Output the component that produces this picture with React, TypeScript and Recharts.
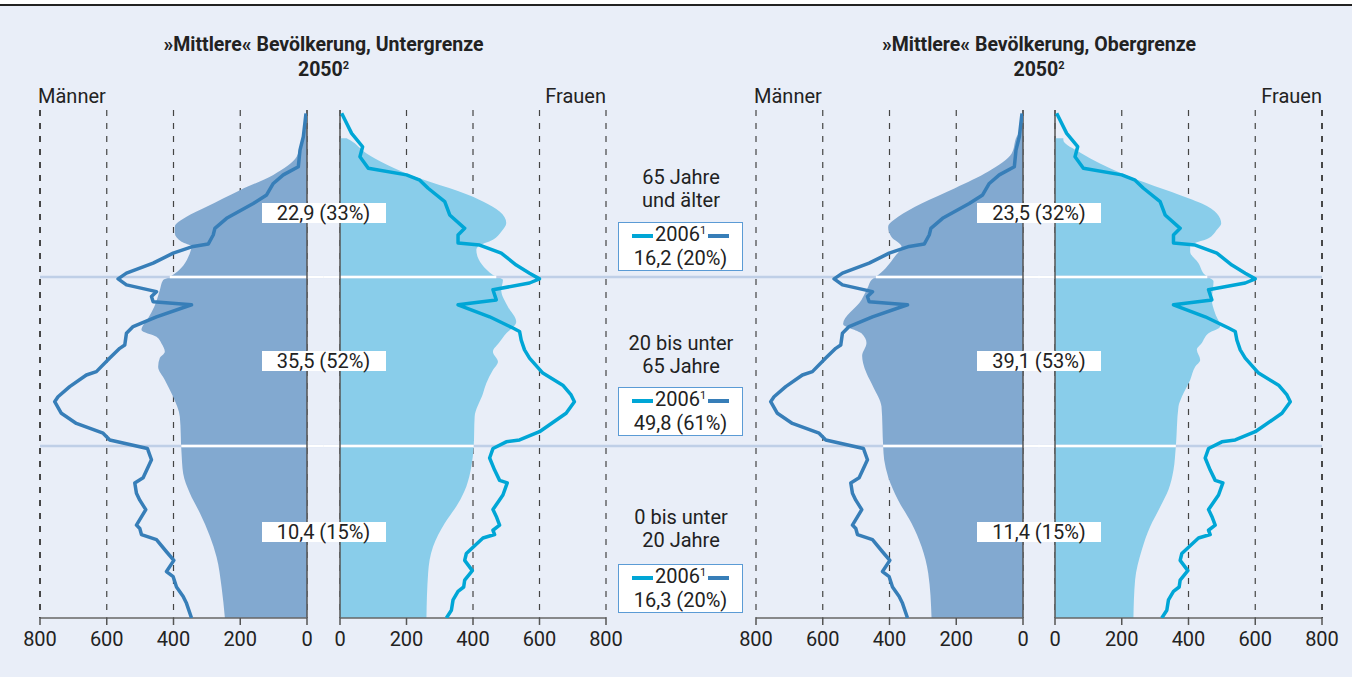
import React from 'react'
import { ComposedChart, Area, Line, XAxis, YAxis, CartesianGrid, ReferenceLine } from 'recharts'

// age axis: three bands (0-20, 20-65, 65-100) of nearly equal height
const AGE_BREAKS = [0, 20, 65, 100]
const BAND_WEIGHTS = [172, 169, 167]
const POS_MAX = BAND_WEIGHTS.reduce((a, b) => a + b, 0)
const TICKS = [0, 200, 400, 600, 800]
const PANEL_GAP = 100 // space between Männer and Frauen, in axis units

// [age, thousand persons]
const MEN_2006: [number, number][] = [
  [0, 346], [1.7, 361], [2.5, 371], [3.6, 391], [4.8, 401], [5.4, 421], [6.7, 399], [7.7, 421],
  [9.1, 451], [9.7, 496], [10.4, 501], [10.8, 511], [12.6, 483], [13.7, 501], [14.5, 511],
  [15.7, 516], [16.3, 491], [18.4, 466], [19.7, 478], [21.6, 591], [23.4, 611], [26, 691],
  [28.7, 736], [31.8, 756], [33.1, 746], [35.8, 711], [38.9, 661], [39.8, 631], [43.4, 591],
  [46, 561], [46.9, 546], [50, 541], [51.8, 521], [54.4, 451], [57.6, 346], [58.4, 461],
  [59.8, 466], [61.1, 451], [62.9, 541], [64.5, 566], [65.8, 541], [67.9, 461], [70, 401],
  [71.4, 341], [71.9, 296], [73.8, 281], [75.2, 276], [77.3, 241], [80.4, 161], [82.2, 121],
  [84.6, 101], [86.4, 71], [88.1, 26], [91.6, 21], [94.4, 11], [99.3, 3],
]
const WOMEN_2006: [number, number][] = [
  [0, 320], [0.9, 335], [2.1, 340], [3.1, 355], [3.6, 372], [4.4, 375], [5.5, 398], [6.7, 375],
  [7.5, 380], [9.3, 430], [9.7, 465], [10.2, 460], [10.8, 480], [11.8, 470], [12.6, 460],
  [14.3, 490], [15.7, 503], [16, 480], [17.2, 465], [18.6, 450], [19.7, 460], [21.1, 500],
  [21.6, 540], [23.8, 600], [28.7, 680], [31.8, 705], [33.6, 695], [36.2, 670], [39.4, 610],
  [43.4, 570], [45.6, 555], [48.2, 545], [50.5, 540], [51.4, 520], [54.4, 450], [57.6, 355],
  [58.9, 470], [61.6, 460], [63.4, 570], [64.5, 600], [65.8, 570], [67.5, 530], [70, 485],
  [71.7, 420], [72.1, 355], [73.8, 355], [75.2, 375], [78, 330], [80.8, 315], [83.6, 265],
  [85.3, 240], [86.4, 200], [87.8, 85], [90.2, 60], [92.3, 68], [95.1, 35], [99.3, 5],
]
const MEN_2050_LOW: [number, number][] = [
  [0, 246], [3.6, 256], [7.1, 271], [9.5, 291], [12.2, 321], [14.5, 351], [16.8, 371], [19.2, 376],
  [27.8, 381], [33.1, 401], [37.6, 426], [41.1, 446], [43.4, 441], [45.1, 426], [47.3, 436],
  [49.1, 451], [50.9, 496], [54, 476], [57, 458], [61.5, 441], [64.2, 431], [65, 411], [70, 351],
  [71.4, 346], [72.4, 376], [74.2, 396], [75.5, 396], [77.6, 361], [79.7, 301], [83.2, 201],
  [86.4, 101], [90.2, 31], [93.7, 16], [96.5, 0],
]
const WOMEN_2050_LOW: [number, number][] = [
  [0, 260], [5.2, 265], [8.3, 280], [11, 315], [13.3, 355], [15.3, 380], [17.6, 395], [19.9, 402],
  [27.8, 405], [34, 430], [36.7, 440], [40.2, 460], [42.4, 475], [45.1, 460], [47.7, 480],
  [49.5, 495], [53.1, 530], [57.1, 505], [61.5, 485], [64.2, 490], [65.4, 460], [70.7, 410],
  [71.4, 415], [72.8, 460], [74.5, 485], [76.3, 500], [78.7, 480], [80.8, 430], [81.8, 400],
  [86.7, 200], [90.9, 80], [93.7, 30], [94.1, 20],
]
const MEN_2050_HIGH: [number, number][] = [
  [0, 274], [5.2, 284], [8.3, 304], [11, 334], [13.7, 374], [16.4, 404], [18.4, 416], [20, 419],
  [30.5, 424], [35.8, 449], [39.4, 469], [42, 479], [44, 482], [47.4, 469], [50, 484], [52.5, 539],
  [58.9, 484], [62.4, 464], [64.2, 454], [65.4, 434], [69.3, 384], [71.4, 364], [73.4, 394],
  [75.5, 404], [77.6, 374], [80.4, 304], [83.6, 204], [87.1, 104], [90.9, 34], [94.4, 19], [96.5, 0],
]
const WOMEN_2050_HIGH: [number, number][] = [
  [0, 235], [4.4, 240], [7.9, 260], [10.6, 285], [12.9, 315], [14.9, 340], [17.2, 355], [19.9, 362],
  [30.5, 370], [33.1, 380], [37.6, 405], [41.1, 420], [42.9, 435], [45.6, 425], [47.4, 440],
  [50, 460], [51.8, 495], [55.3, 480], [58.9, 470], [63.8, 475], [65.4, 450], [67.9, 430],
  [70.3, 405], [71.5, 405], [73.1, 460], [74.9, 485], [76.2, 498], [78.3, 485], [80.4, 440],
  [81.5, 400], [86.7, 200], [90.9, 80], [93.7, 25], [94.1, 25],
]

const GROUP_LABELS = [['65 Jahre', 'und älter'], ['20 bis unter', '65 Jahre'], ['0 bis unter', '20 Jahre']]
const TOTALS_2006 = ['16,2 (20%)', '49,8 (61%)', '16,3 (20%)']
const TOTALS_LOW = ['22,9 (33%)', '35,5 (52%)', '10,4 (15%)']
const TOTALS_HIGH = ['23,5 (32%)', '39,1 (53%)', '11,4 (15%)']

const MEN_FILL = '#82a9d0'
const WOMEN_FILL = '#89cdea'
const MEN_LINE = '#377eb8'
const WOMEN_LINE = '#00a6d6'
const BG = '#e9eef8'
const FONT = 'Roboto, sans-serif'

function agePos(age: number): number {
  let base = 0
  for (let i = 0; i < BAND_WEIGHTS.length; i++) {
    const a0 = AGE_BREAKS[i]
    const a1 = AGE_BREAKS[i + 1]
    if (age <= a1 || i === BAND_WEIGHTS.length - 1) return base + ((age - a0) / (a1 - a0)) * BAND_WEIGHTS[i]
    base += BAND_WEIGHTS[i]
  }
  return base
}

function toSeries(pairs: [number, number][]) {
  return pairs.map(([age, v]) => ({ pos: agePos(age), v }))
}

function valueAt(pairs: [number, number][], age: number): number {
  for (let i = 1; i < pairs.length; i++) {
    const [a0, v0] = pairs[i - 1]
    const [a1, v1] = pairs[i]
    if (age <= a1) return v0 + ((v1 - v0) * (age - a0)) / (a1 - a0)
  }
  return pairs[pairs.length - 1][1]
}

const PANELS = [
  { id: 'mL', reversed: true, padding: { left: 0, right: 1015 }, area: MEN_2050_LOW, line: MEN_2006, fill: MEN_FILL, stroke: MEN_LINE },
  { id: 'fL', reversed: false, padding: { left: 300, right: 716 }, area: WOMEN_2050_LOW, line: WOMEN_2006, fill: WOMEN_FILL, stroke: WOMEN_LINE },
  { id: 'mR', reversed: true, padding: { left: 716, right: 299 }, area: MEN_2050_HIGH, line: MEN_2006, fill: MEN_FILL, stroke: MEN_LINE },
  { id: 'fR', reversed: false, padding: { left: 1015, right: 0 }, area: WOMEN_2050_HIGH, line: WOMEN_2006, fill: WOMEN_FILL, stroke: WOMEN_LINE },
]

const PYRAMIDS = [
  { men: PANELS[0], women: PANELS[1], title: '»Mittlere« Bevölkerung, Untergrenze', center: 323.5, left: 40, right: 606, totals: TOTALS_LOW },
  { men: PANELS[2], women: PANELS[3], title: '»Mittlere« Bevölkerung, Obergrenze', center: 1039, left: 756, right: 1322, totals: TOTALS_HIGH },
]

const GROUP_Y = [213, 360.5, 532]
const LABEL_Y = [177, 343, 517]
const BOX_TOP = [222, 387, 564]

function Text({ x, y, size = 20, bold = false, align = 'center', children }: any) {
  const w = 420
  const left = align === 'center' ? x - w / 2 : align === 'right' ? x - w : x
  return (
    <div style={{ position: 'absolute', left, top: y - size / 2, width: w, textAlign: align, fontSize: size, lineHeight: size + 'px', fontWeight: bold ? 700 : 400, whiteSpace: 'nowrap' }}>
      {children}
    </div>
  )
}

function Legend2006({ top, value }: { top: number; value: string }) {
  return (
    <div style={{ position: 'absolute', left: 618, top, width: 125, height: 49, boxSizing: 'border-box', border: '1.5px solid #5b9bd5', background: '#fff' }}>
      <div style={{ display: 'flex', alignItems: 'center', justifyContent: 'center', height: 20, marginTop: 3 }}>
        <span style={{ display: 'inline-block', width: 21, height: 3.5, background: WOMEN_LINE }} />
        <span style={{ fontSize: 20, lineHeight: '20px', margin: '0 2px' }}>
          2006<span style={{ fontSize: 11, position: 'relative', top: -7 }}>1</span>
        </span>
        <span style={{ display: 'inline-block', width: 21, height: 3.5, background: MEN_LINE }} />
      </div>
      <div style={{ fontSize: 20, lineHeight: '20px', textAlign: 'center', marginTop: 2 }}>{value}</div>
    </div>
  )
}

export default function App() {
  return (
    <div style={{ position: 'absolute', left: 0, top: 0, width: 1352, height: 677, background: BG, fontFamily: FONT, color: '#222', overflow: 'hidden' }}>
      <div style={{ position: 'absolute', left: 0, top: 0, width: 1352, height: 4, background: '#fff' }} />
      <div style={{ position: 'absolute', left: 0, top: 4, width: 1352, height: 2, background: '#222' }} />

      <div style={{ position: 'absolute', left: 0, top: 0 }}>
        <ComposedChart width={1352} height={677} layout="vertical" margin={{ top: 110, right: 30, bottom: 59, left: 40 }}>
          <YAxis yAxisId="age" type="number" dataKey="pos" domain={[0, POS_MAX]} reversed hide allowDataOverflow />
          {PANELS.map((p) => (
            <XAxis
              key={p.id}
              xAxisId={p.id}
              type="number"
              orientation="bottom"
              domain={[0, 800]}
              ticks={TICKS}
              reversed={p.reversed}
              padding={p.padding}
              height={0.01}
              allowDataOverflow
              axisLine={false}
              tickLine={{ stroke: '#555', strokeWidth: 1.5 }}
              tickSize={7}
              tickMargin={7}
              tick={{ fill: '#222', fontSize: 20, fontFamily: FONT }}
            />
          ))}
          {PANELS.map((p) => (
            <CartesianGrid key={'g' + p.id} xAxisId={p.id} yAxisId="age" horizontal={false} stroke="#444" strokeWidth={1.2} strokeDasharray="6 7" />
          ))}
          {[20, 65].map((age) => (
            <ReferenceLine key={'sep' + age} xAxisId="mL" yAxisId="age" y={agePos(age)} stroke="#bfcfe7" strokeWidth={2.5} ifOverflow="visible" />
          ))}
          {PANELS.map((p) => (
            <Area
              key={'a' + p.id}
              xAxisId={p.id}
              yAxisId="age"
              data={toSeries(p.area)}
              dataKey="v"
              type="monotone"
              fill={p.fill}
              fillOpacity={1}
              stroke="none"
              isAnimationActive={false}
            />
          ))}
          {PYRAMIDS.flatMap((pyr, i) =>
            [20, 65].flatMap((age) => [
              <ReferenceLine
                key={`wm${i}-${age}`}
                xAxisId={pyr.men.id}
                yAxisId="age"
                segment={[{ x: valueAt(pyr.men.area, age), y: agePos(age) }, { x: -PANEL_GAP / 2, y: agePos(age) }]}
                stroke="#fff"
                strokeWidth={2.5}
                ifOverflow="visible"
              />,
              <ReferenceLine
                key={`ww${i}-${age}`}
                xAxisId={pyr.women.id}
                yAxisId="age"
                segment={[{ x: -PANEL_GAP / 2, y: agePos(age) }, { x: valueAt(pyr.women.area, age), y: agePos(age) }]}
                stroke="#fff"
                strokeWidth={2.5}
                ifOverflow="visible"
              />,
            ])
          )}
          {PANELS.map((p) => (
            <ReferenceLine key={'z' + p.id} xAxisId={p.id} yAxisId="age" x={0} stroke="#555" strokeWidth={1.5} />
          ))}
          {PANELS.map((p) => (
            <ReferenceLine
              key={'b' + p.id}
              xAxisId={p.id}
              yAxisId="age"
              segment={[{ x: 0, y: 0 }, { x: 800, y: 0 }]}
              stroke="#666"
              strokeWidth={1.5}
              ifOverflow="visible"
            />
          ))}
          {PANELS.map((p) => (
            <Line
              key={'l' + p.id}
              xAxisId={p.id}
              yAxisId="age"
              data={toSeries(p.line)}
              dataKey="v"
              type="linear"
              stroke={p.stroke}
              strokeWidth={3.5}
              strokeLinejoin="round"
              dot={false}
              activeDot={false}
              isAnimationActive={false}
            />
          ))}
        </ComposedChart>
      </div>

      {PYRAMIDS.map((pyr, i) => (
        <React.Fragment key={'p' + i}>
          <Text x={pyr.center} y={45} size={19.5} bold>{pyr.title}</Text>
          <Text x={pyr.center} y={70} size={19.5} bold>
            2050<span style={{ fontSize: 11, position: 'relative', top: -7 }}>2</span>
          </Text>
          <Text x={pyr.left - 2} y={96} align="left">Männer</Text>
          <Text x={pyr.right} y={96} align="right">Frauen</Text>
          {pyr.totals.map((t, k) => (
            <div
              key={'t' + k}
              style={{ position: 'absolute', left: pyr.center - 62, top: GROUP_Y[k] - 10, width: 124, height: 20, background: '#fff', fontSize: 20, lineHeight: '20px', textAlign: 'center' }}
            >
              {t}
            </div>
          ))}
        </React.Fragment>
      ))}

      {GROUP_LABELS.map((lines, k) => (
        <React.Fragment key={'g' + k}>
          <Text x={681} y={LABEL_Y[k]}>{lines[0]}</Text>
          <Text x={681} y={LABEL_Y[k] + 23}>{lines[1]}</Text>
          <Legend2006 top={BOX_TOP[k]} value={TOTALS_2006[k]} />
        </React.Fragment>
      ))}
    </div>
  )
}
